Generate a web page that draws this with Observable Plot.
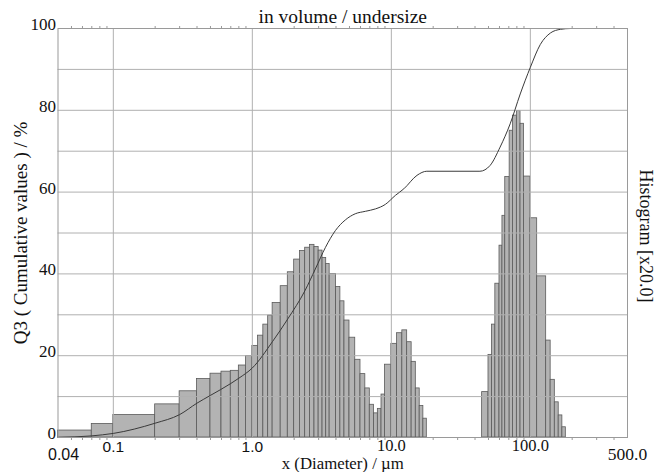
<!DOCTYPE html>
<html>
<head>
<meta charset="utf-8">
<script src="https://cdn.jsdelivr.net/npm/d3@7"></script>
<script src="https://cdn.jsdelivr.net/npm/@observablehq/plot@0.6"></script>
<style>
  html, body { margin: 0; padding: 0; background: #fff; }
  #chart svg { display: block; }
</style>
</head>
<body>
<div id="chart"></div>
<script>
// Histogram classes (µm) and heights (histogram values x20, on the 0–100 axis)
const binLow = [0.04, 0.07, 0.1, 0.2, 0.3, 0.4, 0.5, 0.6, 0.7, 0.8, 0.9,
  1.0, 1.1, 1.2, 1.3, 1.4, 1.6, 1.8, 2.0, 2.2, 2.4, 2.6, 2.8, 3.0, 3.2, 3.4, 3.6,
  4.0, 4.3, 4.6, 5.0, 5.5, 6.0, 6.5, 7.0, 7.5, 8.0, 8.5, 9.0,
  10, 11, 12, 13, 14, 15, 16, 17,
  45, 50, 53, 56, 60, 63, 66, 71, 75, 80, 85, 90, 100, 112, 130, 140, 150, 160, 170];
const binHigh = [0.07, 0.1, 0.2, 0.3, 0.4, 0.5, 0.6, 0.7, 0.8, 0.9, 1.0,
  1.1, 1.2, 1.3, 1.4, 1.6, 1.8, 2.0, 2.2, 2.4, 2.6, 2.8, 3.0, 3.2, 3.4, 3.6, 4.0,
  4.3, 4.6, 5.0, 5.5, 6.0, 6.5, 7.0, 7.5, 8.0, 8.5, 9.0, 10,
  11, 12, 13, 14, 15, 16, 17, 18,
  50, 53, 56, 60, 63, 66, 71, 75, 80, 85, 90, 100, 112, 130, 140, 150, 160, 170, 180];
const binValue = [1.7, 3.3, 5.5, 8.1, 11.3, 14.3, 15.6, 16.1, 16.3, 17.6, 19.9,
  22.4, 24.9, 27.6, 29.8, 32.9, 37.0, 40.4, 43.5, 45.6, 46.4, 47.1, 46.6, 45.7, 43.9, 42.4, 40.0,
  36.8, 33.3, 28.6, 24.4, 19.0, 15.5, 12.0, 8.0, 5.9, 7.0, 10.5, 17.8,
  22.9, 25.5, 26.2, 23.3, 18.5, 12.0, 7.7, 4.6,
  11.1, 20.2, 27.6, 37.6, 46.9, 54.2, 63.7, 75.0, 78.7, 79.8, 76.7, 63.8, 53.6, 39.4, 23.7, 14.1, 8.6, 5.4, 2.5];

// Cumulative undersize curve Q3 (%)
const cumDiameter = [0.04, 0.07, 0.1, 0.2, 0.3, 0.4, 0.5, 0.7, 0.8, 1.0, 1.4, 1.8, 2.4, 2.84, 3.36, 3.96,
  4.67, 5.5, 6.5, 7.7, 9.06, 10.7, 12.3, 15.3, 18, 43.4, 51.3, 60.6, 71.6, 84.6, 100, 118, 139.5, 165, 195, 500];
const cumValue = [0, 0.4, 1.0, 3.5, 5.6, 8.4, 10.3, 13.2, 14.5, 17.0, 23.5, 29.0, 36.0, 41.2, 46.5, 50.6,
  53.2, 54.7, 55.3, 55.9, 57.0, 59.2, 60.8, 64.1, 65.1, 65.1, 66.5, 71.0, 76.7, 84.0, 90.5, 96.1, 98.9, 99.8, 100, 100];

// Axis ticks and labels
const yTicks = [0, 20, 40, 60, 80, 100];
const yGrid = [10, 20, 30, 40, 50, 60, 70, 80, 90];
const xGrid = [0.1, 1, 10, 100];
const xMinor = [0.05, 0.06, 0.07, 0.08, 0.09, 0.2, 0.3, 0.4, 0.5, 0.6, 0.7, 0.8, 0.9,
  2, 3, 4, 5, 6, 7, 8, 9, 20, 30, 40, 50, 60, 70, 80, 90, 200, 300, 400];
const xLabelSansHigh = [0.1, 1];
const xLabelSansHighText = ["0.1", "1.0"];
const xLabelSansLow = [0.04];
const xLabelSansLowText = ["0.04"];
const xLabelSerifHigh = [10, 100];
const xLabelSerifHighText = ["10.0", "100.0"];
const xLabelSerifLow = [500];
const xLabelSerifLowText = ["500.0"];

const bars = binLow.map((lo, i) => ({lo, hi: binHigh[i], v: binValue[i]}));
const cum = cumDiameter.map((d, i) => ({d, q: cumValue[i]}));

const serif = "'Liberation Serif', 'Times New Roman', serif";
const sans = "'Liberation Sans', Arial, sans-serif";
const grid = "#b0b0b0";

const chart = Plot.plot({
  width: 666,
  height: 472,
  marginLeft: 57.5,
  marginRight: 39,
  marginTop: 28,
  marginBottom: 35,
  x: {type: "log", domain: [0.04, 500], axis: null},
  y: {domain: [0, 100], axis: null},
  style: {fontFamily: serif, background: "#fff", color: "#111"},
  marks: [
    Plot.rectY(bars, {x1: "lo", x2: "hi", y: "v", fill: "#b3b3b3", stroke: "#5a5a5a", strokeWidth: 0.8}),
    Plot.ruleY(yGrid, {stroke: grid, strokeWidth: 1}),
    Plot.ruleX(xGrid, {stroke: grid, strokeWidth: 1}),
    Plot.line(cum, {x: "d", y: "q", curve: "monotone-x", stroke: "#3a3a3a", strokeWidth: 1}),
    Plot.frame({stroke: "#9a9a9a"}),
    Plot.axisX({anchor: "top", ticks: xMinor, tickSize: 3, tickFormat: () => "", stroke: "#9a9a9a"}),
    Plot.axisX({anchor: "bottom", ticks: xMinor, tickSize: 3, tickFormat: () => "", stroke: "#9a9a9a"}),
    // y tick labels
    Plot.text(yTicks, {y: d => d, frameAnchor: "left", textAnchor: "end", lineAnchor: "bottom", dx: -2, dy: 1.5, fontSize: 17, fill: "#111"}),
    // x tick labels
    Plot.text(xLabelSansHigh, {x: d => d, text: (d, i) => xLabelSansHighText[i], frameAnchor: "bottom", lineAnchor: "middle", dy: 9.5, fontSize: 15.5, fontFamily: sans, fill: "#111"}),
    Plot.text(xLabelSansLow, {x: d => d, text: (d, i) => xLabelSansLowText[i], frameAnchor: "bottom", lineAnchor: "middle", textAnchor: "start", dx: -10, dy: 17, fontSize: 16, fontFamily: sans, fill: "#111"}),
    Plot.text(xLabelSerifHigh, {x: d => d, text: (d, i) => xLabelSerifHighText[i], frameAnchor: "bottom", lineAnchor: "middle", dy: 8, fontSize: 16.5, fill: "#111"}),
    Plot.text(xLabelSerifLow, {x: d => d, text: (d, i) => xLabelSerifLowText[i], frameAnchor: "bottom", lineAnchor: "middle", dy: 17, fontSize: 17.5, fill: "#111"}),
    // titles
    Plot.text(["in volume / undersize"], {frameAnchor: "top", textAnchor: "middle", lineAnchor: "bottom", dy: -6, fontSize: 19.5, fill: "#111"}),
    Plot.text(["x (Diameter) / µm"], {frameAnchor: "bottom", textAnchor: "middle", lineAnchor: "bottom", dy: 31, fontSize: 16.8, fill: "#111"}),
    Plot.text(["Q3 ( Cumulative values ) / %"], {frameAnchor: "left", textAnchor: "middle", rotate: -90, lineAnchor: "middle", dx: -37, fontSize: 19, fill: "#111"}),
    Plot.text(["Histogram [x20.0]"], {frameAnchor: "right", textAnchor: "middle", rotate: 90, lineAnchor: "middle", dx: 18, dy: 3, fontSize: 18, fill: "#111"})
  ]
});

document.getElementById("chart").appendChild(chart);
</script>
</body>
</html>
